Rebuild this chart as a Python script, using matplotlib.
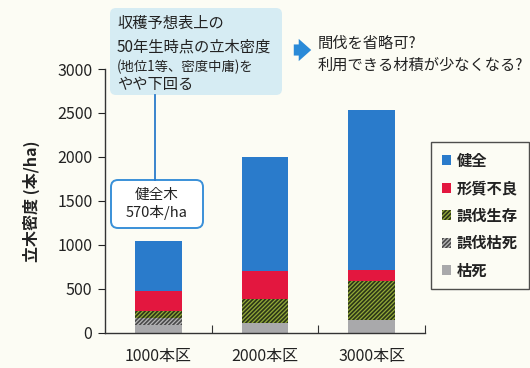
import matplotlib
matplotlib.use("Agg")
import matplotlib.pyplot as plt
from matplotlib.patches import FancyBboxPatch, Patch
import numpy as np

plt.rcParams['font.family'] = ['Noto Sans CJK JP', 'DejaVu Sans']
plt.rcParams['hatch.linewidth'] = 0.9

# data
categories = ['1000本区', '2000本区', '3000本区']
koshi = [88, 110, 150]            # 枯死
gobatsu_koshi = [83, 0, 0]        # 誤伐枯死
gobatsu_seizon = [76, 270, 435]   # 誤伐生存
keishitsu = [227, 320, 125]       # 形質不良
kenzen = [570, 1300, 1820]        # 健全
yticks = [0, 500, 1000, 1500, 2000, 2500, 3000]

bg = '#FCFCF4'
W, H = 530, 368
fig = plt.figure(figsize=(W / 100, H / 100), dpi=100, facecolor=bg)
ax = fig.add_axes([105 / W, 1 - 332.7 / H, 320 / W, (332.7 - 69) / H])
ax.set_facecolor(bg)

x = np.arange(len(categories))
bw = 0.44
layers = [
    (koshi, '枯死', dict(color='#A9A9AB')),
    (gobatsu_koshi, '誤伐枯死', dict(facecolor='#4A4A4A', edgecolor='#B8B8B8', hatch='////////')),
    (gobatsu_seizon, '誤伐生存', dict(facecolor='#2C3618', edgecolor='#93AA38', hatch='////////')),
    (keishitsu, '形質不良', dict(color='#E3173F')),
    (kenzen, '健全', dict(color='#2A7BCB')),
]
bottom = np.zeros(len(categories))
handles = {}
for vals, name, style in layers:
    vals = np.array(vals, dtype=float)
    ax.bar(x, vals, bw, bottom=bottom, linewidth=0, **style)
    bottom += vals
    handles[name] = Patch(linewidth=0, **style)

ax.set_xlim(-0.5, 2.5)
ax.set_ylim(0, 3000)
ax.set_yticks(yticks)
ax.tick_params(axis='y', direction='out', length=5, labelsize=11.5, colors='#222222', pad=4)
ax.set_xticks([0.5, 1.5, 2.5])
ax.set_xticklabels([])
ax.tick_params(axis='x', which='major', direction='in', length=6, color='#333333')
ax.set_xticks(x, minor=True)
ax.set_xticklabels(categories, minor=True, fontsize=11.5, color='#222222')
ax.tick_params(axis='x', which='minor', length=0, pad=11)
for s in ['top', 'right']:
    ax.spines[s].set_visible(False)
for s in ['left', 'bottom']:
    ax.spines[s].set_color('#333333')
    ax.spines[s].set_linewidth(1.0)
ax.set_ylabel('立木密度 (本/ha)', fontsize=11.5, color='#222222', labelpad=12,
              fontweight='bold')

order = ['健全', '形質不良', '誤伐生存', '誤伐枯死', '枯死']
leg = fig.legend([handles[k] for k in order], order,
                 loc='upper left', bbox_to_anchor=(431 / W, 1 - 142 / H),
                 fontsize=11, frameon=True, fancybox=False, edgecolor='#222222',
                 facecolor=bg, handlelength=0.6, handleheight=0.6,
                 handletextpad=0.4, labelspacing=0.75, borderpad=0.7,
                 borderaxespad=0)
leg.get_frame().set_linewidth(1.0)
for t in leg.get_texts():
    t.set_fontweight('bold')
    t.set_color('#222222')

# overlay in pixel coordinates for the callouts
ov = fig.add_axes([0, 0, 1, 1], facecolor='none')
ov.set_xlim(0, W)
ov.set_ylim(H, 0)
ov.axis('off')

ov.add_patch(FancyBboxPatch((110, 8), 172, 87, boxstyle='round,pad=0,rounding_size=6',
                            facecolor='#D6ECF3', edgecolor='none'))
ov.text(117, 23, '収穫予想表上の', fontsize=11, va='center', color='#222222')
ov.text(117, 47, '50年生時点の立木密度', fontsize=11, va='center', color='#222222')
ov.text(117, 67, '(地位1等、密度中庸)を', fontsize=9.6, va='center', color='#222222')
ov.text(117, 84, 'やや下回る', fontsize=11, va='center', color='#222222')
ov.plot([155, 155], [95, 180], color='#2A7BCB', lw=1.3)

ov.add_patch(FancyBboxPatch((111, 180), 92, 48, boxstyle='round,pad=0,rounding_size=7',
                            facecolor='white', edgecolor='#3A90D8', lw=1.4))
ov.text(157, 204, '健全木\n570本/ha', fontsize=10.5, ha='center', va='center',
        color='#222222', linespacing=1.25)

ov.annotate('', xy=(314, 50), xytext=(291, 50),
            arrowprops=dict(arrowstyle='simple,head_width=1.6,head_length=0.9,tail_width=0.8',
                            color='#2A8AD8', lw=0))
ov.text(318, 43, '間伐を省略可?', fontsize=11, va='center', color='#222222')
ov.text(318, 65, '利用できる材積が少なくなる?', fontsize=11, va='center', color='#222222')

fig.savefig('out.png', dpi=100, facecolor=bg)
